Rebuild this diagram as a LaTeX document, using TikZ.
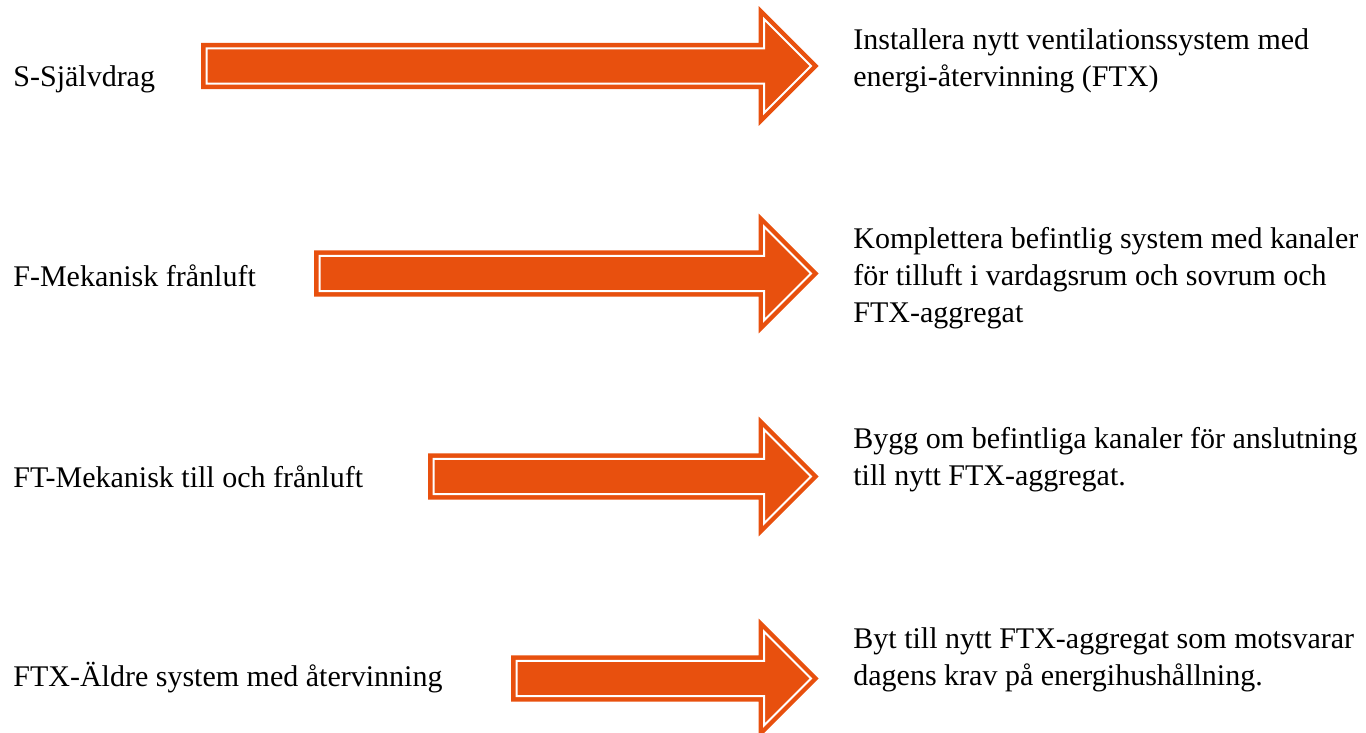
\documentclass[tikz,border=0pt]{standalone}
\usepackage{fontspec}
\setmainfont{Liberation Serif}
\usetikzlibrary{shapes.arrows}
\definecolor{cO}{RGB}{232,80,14}

\begin{document}
\begin{tikzpicture}[x=0.5pt, y=-0.5pt,
    lefttxt/.style={inner sep=0pt, anchor=base west, font=\fontsize{15}{18.5}\selectfont},
    righttxt/.style={lefttxt, align=left},
    bigarrow/.style={single arrow, draw=cO, fill=cO, double=white, double distance=1pt, line width=2.2pt,
        inner xsep=0pt, inner ysep=7.75pt, outer sep=0pt, single arrow head extend=14.6pt, anchor=tip}]
    \useasboundingbox (0,0) rectangle (1366,733);

    \node[lefttxt] (S) at (13,87) {S-Självdrag};
    \node[lefttxt] (F) at (13,286) {F-Mekanisk frånluft};
    \node[lefttxt] (FT) at (13,487) {FT-Mekanisk till och frånluft};
    \node[lefttxt] (FTX) at (13,686) {FTX-Äldre system med återvinning};

    \node[bigarrow, minimum height=302.25pt] (aS) at (811,66) {};
    \node[bigarrow, minimum height=245.75pt] (aF) at (811,273.5) {};
    \node[bigarrow, minimum height=188.75pt] (aFT) at (811,476.5) {};
    \node[bigarrow, minimum height=147.25pt] (aFTX) at (811,678.5) {};

    \node[righttxt] (rS) at (853,87) {Installera nytt ventilationssystem med\\energi-återvinning (FTX)};
    \node[righttxt] (rF) at (853,322) {Komplettera befintlig system med kanaler\\för tilluft i vardagsrum och sovrum och\\FTX-aggregat};
    \node[righttxt] (rFT) at (853,485) {Bygg om befintliga kanaler för anslutning\\till nytt FTX-aggregat.};
    \node[righttxt] (rFTX) at (853,685) {Byt till nytt FTX-aggregat som motsvarar\\dagens krav på energihushållning.};
\end{tikzpicture}
\end{document}
